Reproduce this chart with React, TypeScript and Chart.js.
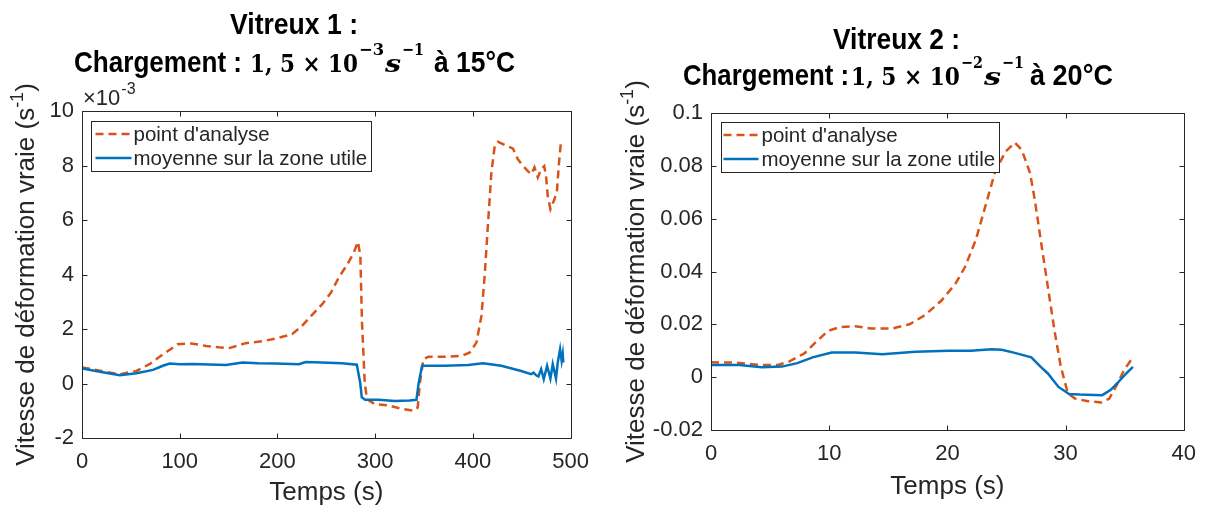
import React, { useEffect, useRef } from 'react';
import { Chart, registerables } from 'chart.js';

Chart.register(...registerables);

// ---------- data ----------
const SERIES_LABELS = ["point d'analyse", 'moyenne sur la zone utile'];

// Vitreux 1 (rate in 1e-3 s^-1)
const v1PointTime = [0, 11.5, 25, 38.7, 55.7, 69, 82.8, 98, 111.7, 127, 140, 150.7, 167.5, 185, 198, 215, 225, 235, 245.8, 255, 262.7, 272, 278, 282.4, 284.8, 286.5, 289.3, 291.6, 300, 313.5, 325.4, 339, 343.5, 345.8, 349.3, 354.4, 371.4, 388.3, 396.8, 403.6, 408.7, 412, 415.5, 418.9, 422.3, 425.7, 432.5, 441, 446, 451, 456, 459.6, 463, 466.4, 469.8, 473, 474.8, 476.6, 479.3, 483.4, 486, 487.8, 490];
const v1PointRate = [0.59, 0.52, 0.42, 0.34, 0.46, 0.71, 1.07, 1.44, 1.47, 1.38, 1.33, 1.3, 1.48, 1.55, 1.65, 1.81, 2.11, 2.5, 2.91, 3.35, 3.89, 4.4, 4.8, 5.2, 4.68, 2.24, 0.04, -0.58, -0.76, -0.8, -0.92, -1.0, -0.88, 0.04, 0.89, 0.98, 0.98, 1.01, 1.14, 1.5, 2.48, 3.95, 5.9, 7.74, 8.72, 8.87, 8.75, 8.62, 8.23, 7.99, 7.8, 7.68, 7.93, 7.56, 7.86, 7.98, 7.62, 6.88, 6.4, 6.76, 7.07, 7.98, 8.84];
const v1MeanTime = [0, 18.3, 38.7, 55.7, 72.6, 82.8, 89.6, 100, 113.4, 130, 147.3, 164.3, 180, 198, 222, 228.8, 245, 266, 281.2, 284.6, 286.3, 289.7, 303.2, 320.2, 335, 342.2, 344.6, 348, 371.4, 395, 410.4, 429, 449.4, 459.6, 462, 464.7, 467, 469.8, 472.5, 475.9, 479.3, 481.7, 485, 486.8, 489.2, 490.8, 491.9, 492.5];
const v1MeanRate = [0.55, 0.43, 0.3, 0.38, 0.5, 0.65, 0.73, 0.71, 0.72, 0.7, 0.68, 0.77, 0.74, 0.73, 0.71, 0.79, 0.77, 0.74, 0.69, 0.04, -0.51, -0.6, -0.6, -0.64, -0.62, -0.6, 0.04, 0.65, 0.65, 0.68, 0.74, 0.65, 0.46, 0.34, 0.4, 0.3, 0.26, 0.53, 0.16, 0.65, 0.18, 0.71, 0.18, 0.77, 1.26, 0.83, 1.08, 0.77];
const v1XTicks = [0, 100, 200, 300, 400, 500];
const v1YTicks = [-2, 0, 2, 4, 6, 8, 10];

// Vitreux 2 (rate in s^-1)
const v2PointTime = [0, 2.1, 4.3, 5.65, 6.6, 7.9, 8.9, 9.9, 10.9, 12.2, 13.5, 15.3, 16.8, 18.1, 19.5, 20.7, 21.5, 22.4, 23.2, 24.0, 24.9, 25.7, 26.3, 27.0, 27.4, 27.9, 28.5, 29.1, 29.6, 30.2, 30.8, 31.9, 33.0, 33.7, 34.4, 34.95, 35.7];
const v2PointRate = [0.0056, 0.0055, 0.0046, 0.0046, 0.0059, 0.009, 0.0134, 0.0175, 0.019, 0.0193, 0.0184, 0.0184, 0.02, 0.0235, 0.029, 0.0355, 0.0418, 0.0519, 0.0645, 0.0772, 0.0853, 0.0888, 0.086, 0.0772, 0.067, 0.0519, 0.0342, 0.0166, 0.0039, -0.0062, -0.0081, -0.0091, -0.0096, -0.0081, -0.0024, 0.0027, 0.0075];
const v2MeanTime = [0, 2.4, 4.3, 6, 7.3, 8.6, 10.2, 12.2, 14.5, 17.3, 20.1, 22, 23.7, 24.6, 25.7, 27.1, 27.9, 28.5, 29.4, 30.3, 31.2, 33.1, 33.8, 34.4, 34.95, 35.7];
const v2MeanRate = [0.0046, 0.0046, 0.0038, 0.004, 0.0053, 0.0075, 0.0093, 0.0093, 0.0087, 0.0096, 0.01, 0.01, 0.0106, 0.0104, 0.0092, 0.0075, 0.0039, 0.0014, -0.0037, -0.0064, -0.0066, -0.0068, -0.0049, -0.0022, 0.0006, 0.0039];
const v2XTicks = [0, 10, 20, 30, 40];
const v2YTicks = [-0.02, 0, 0.02, 0.04, 0.06, 0.08, 0.1];

// ---------- styles ----------
const ORANGE = '#D95319';
const BLUE = '#0072BD';
const INK = '#262626';
const SANS = '"Liberation Sans", Arial, Helvetica, sans-serif';
const SERIF = '"DejaVu Serif", "Liberation Serif", serif';

type Seg = { text: string; font: string; x0: number; x1: number; y: number };

type Panel = {
  pointT: number[]; pointV: number[]; meanT: number[]; meanV: number[];
  xTicks: number[]; yTicks: number[];
  padRight: number; padTop: number; yAxisWidth: number; xAxisHeight: number;
  xTitlePadBottom: number; yTitleX: number;
  legendDx: number; legendDy: number; legendSample: [number, number, number];
  titleSegs: Seg[]; multiplier: boolean;
};

const B30 = `bold 30px ${SANS}`;
const M24 = `bold 24px ${SERIF}`;
const M18 = `bold 17px ${SERIF}`;
const MI24 = `bold italic 24px ${SERIF}`;

const panel1: Panel = {
  pointT: v1PointTime, pointV: v1PointRate, meanT: v1MeanTime, meanV: v1MeanRate,
  xTicks: v1XTicks, yTicks: v1YTicks,
  padRight: 27, padTop: 111, yAxisWidth: 82, xAxisHeight: 73,
  xTitlePadBottom: 3, yTitleX: 27,
  legendDx: 9, legendDy: 10, legendSample: [4, 40, 42],
  multiplier: true,
  titleSegs: [
    { text: 'Vitreux 1 :', font: B30, x0: 230, x1: 358, y: 34 },
    { text: 'Chargement :', font: B30, x0: 74, x1: 242, y: 72 },
    { text: '1, 5 × 10', font: M24, x0: 250, x1: 358, y: 72 },
    { text: '−3', font: M18, x0: 359, x1: 384, y: 55 },
    { text: 's', font: MI24, x0: 385, x1: 401, y: 72 },
    { text: '−1', font: M18, x0: 402, x1: 424, y: 55 },
    { text: 'à 15°C', font: B30, x0: 434, x1: 515, y: 72 },
  ],
};

const panel2: Panel = {
  pointT: v2PointTime, pointV: v2PointRate, meanT: v2MeanTime, meanV: v2MeanRate,
  xTicks: v2XTicks, yTicks: v2YTicks,
  padRight: 21, padTop: 113, yAxisWidth: 111, xAxisHeight: 81,
  xTitlePadBottom: 9, yTitleX: 37,
  legendDx: 10, legendDy: 9, legendSample: [2, 37, 40],
  multiplier: false,
  titleSegs: [
    { text: 'Vitreux 2 :', font: B30, x0: 233, x1: 360, y: 48.6 },
    { text: 'Chargement :', font: B30, x0: 83, x1: 249, y: 85 },
    { text: '1, 5 × 10', font: M24, x0: 251, x1: 360, y: 85 },
    { text: '−2', font: M18, x0: 361, x1: 383, y: 68 },
    { text: 's', font: MI24, x0: 384, x1: 401, y: 85 },
    { text: '−1', font: M18, x0: 402, x1: 424, y: 68 },
    { text: 'à 20°C', font: B30, x0: 430, x1: 513, y: 85 },
  ],
};

const fmt = (v: number | string) => String(parseFloat(Number(v).toFixed(4)));

function drawSeg(ctx: CanvasRenderingContext2D, s: Seg, color: string) {
  ctx.font = s.font;
  const w = ctx.measureText(s.text).width || 1;
  ctx.save();
  ctx.translate(s.x0, s.y);
  ctx.scale((s.x1 - s.x0) / w, 1);
  ctx.fillStyle = color;
  ctx.textAlign = 'left';
  ctx.textBaseline = 'alphabetic';
  ctx.fillText(s.text, 0, 0);
  ctx.restore();
}

function makeDecor(p: Panel) {
  return {
    id: 'decor',
    afterDraw(chart: any) {
      const { ctx, chartArea } = chart;
      const { left, top, right, bottom } = chartArea;
      const xs = chart.scales.x;
      const ys = chart.scales.y;
      ctx.save();
      // box and inward ticks
      ctx.strokeStyle = INK;
      ctx.lineWidth = 1;
      ctx.setLineDash([]);
      const L = Math.round(left) + 0.5, T = Math.round(top) + 0.5;
      const R = Math.round(right) + 0.5, B = Math.round(bottom) + 0.5;
      ctx.beginPath();
      ctx.rect(L, T, R - L, B - T);
      const tl = 5;
      p.xTicks.forEach((v) => {
        const px = Math.round(xs.getPixelForValue(v)) + 0.5;
        ctx.moveTo(px, B); ctx.lineTo(px, B - tl);
        ctx.moveTo(px, T); ctx.lineTo(px, T + tl);
      });
      p.yTicks.forEach((v) => {
        const py = Math.round(ys.getPixelForValue(v)) + 0.5;
        ctx.moveTo(L, py); ctx.lineTo(L + tl, py);
        ctx.moveTo(R, py); ctx.lineTo(R - tl, py);
      });
      ctx.stroke();

      // legend
      const lf = `20.5px ${SANS}`;
      ctx.font = lf;
      const labels = chart.data.datasets.map((d: any) => d.label as string);
      const tw = Math.max(...labels.map((t: string) => ctx.measureText(t).width));
      const lx = Math.round(left + p.legendDx) + 0.5;
      const ly = Math.round(top + p.legendDy) + 0.5;
      const [s0, s1, tx] = p.legendSample;
      const lw = Math.round(tx + tw + 4);
      ctx.fillStyle = '#ffffff';
      ctx.fillRect(lx, ly, lw, 50);
      ctx.strokeStyle = INK;
      ctx.lineWidth = 1;
      ctx.strokeRect(lx, ly, lw, 50);
      chart.data.datasets.forEach((d: any, i: number) => {
        const yy = ly + 12.5 + i * 24;
        ctx.beginPath();
        ctx.strokeStyle = d.borderColor;
        ctx.lineWidth = d.borderWidth;
        ctx.setLineDash(d.borderDash || []);
        ctx.moveTo(lx + s0, yy);
        ctx.lineTo(lx + s1, yy);
        ctx.stroke();
        ctx.setLineDash([]);
        ctx.fillStyle = INK;
        ctx.font = lf;
        ctx.textAlign = 'left';
        ctx.textBaseline = 'middle';
        ctx.fillText(d.label, lx + tx, yy + 1);
      });

      // y-axis title (rotated, with superscript)
      ctx.save();
      ctx.translate(p.yTitleX, (top + bottom) / 2);
      ctx.rotate(-Math.PI / 2);
      const mainF = `26px ${SANS}`;
      const supF = `18px ${SANS}`;
      const parts: [string, string, number][] = [
        ['Vitesse de déformation vraie (s', mainF, 0],
        ['-1', supF, -9],
        [')', mainF, 0],
      ];
      let total = 0;
      parts.forEach(([t, f]) => { ctx.font = f; total += ctx.measureText(t).width; });
      let cx = -total / 2;
      ctx.fillStyle = INK;
      ctx.textAlign = 'left';
      ctx.textBaseline = 'middle';
      parts.forEach(([t, f, dy]) => {
        ctx.font = f;
        ctx.fillText(t, cx, dy);
        cx += ctx.measureText(t).width;
      });
      ctx.restore();

      // exponent multiplier
      if (p.multiplier) {
        ctx.fillStyle = INK;
        ctx.textAlign = 'left';
        ctx.textBaseline = 'alphabetic';
        ctx.font = `22px ${SANS}`;
        ctx.fillText('×10', left + 1, top - 6);
        const w = ctx.measureText('×10').width;
        ctx.font = `16px ${SANS}`;
        ctx.fillText('-3', left + 1 + w + 1, top - 17);
      }

      // title
      p.titleSegs.forEach((s) => drawSeg(ctx, s, '#000000'));
      ctx.restore();
    },
  };
}

function PanelChart({ p, left, width }: { p: Panel; left: number; width: number }) {
  const ref = useRef<HTMLCanvasElement | null>(null);
  useEffect(() => {
    if (!ref.current) return;
    const tickFont = { family: SANS, size: 22 };
    const chart = new Chart(ref.current, {
      type: 'line',
      data: {
        datasets: [
          {
            label: SERIES_LABELS[0],
            data: p.pointT.map((t, i) => ({ x: t, y: p.pointV[i] })),
            borderColor: ORANGE,
            backgroundColor: ORANGE,
            borderWidth: 2.5,
            borderDash: [8, 5],
            pointRadius: 0,
            tension: 0,
            fill: false,
            order: 1,
          },
          {
            label: SERIES_LABELS[1],
            data: p.meanT.map((t, i) => ({ x: t, y: p.meanV[i] })),
            borderColor: BLUE,
            backgroundColor: BLUE,
            borderWidth: 2.5,
            pointRadius: 0,
            tension: 0,
            fill: false,
            order: 0,
          },
        ],
      },
      options: {
        responsive: false,
        maintainAspectRatio: false,
        animation: false,
        devicePixelRatio: 1,
        layout: { padding: { left: 0, right: p.padRight, top: p.padTop, bottom: 0 } },
        plugins: {
          legend: { display: false },
          title: { display: false },
          tooltip: { enabled: false },
        },
        scales: {
          x: {
            type: 'linear',
            min: p.xTicks[0],
            max: p.xTicks[p.xTicks.length - 1],
            afterBuildTicks: (s: any) => { s.ticks = p.xTicks.map((v) => ({ value: v })); },
            afterFit: (s: any) => { s.height = p.xAxisHeight; },
            ticks: { font: tickFont, color: INK, padding: 11, maxRotation: 0, autoSkip: false, callback: (v: any) => fmt(v) },
            grid: { display: false, drawTicks: false },
            border: { display: false },
            title: {
              display: true,
              text: 'Temps (s)',
              color: INK,
              font: { family: SANS, size: 26 },
              padding: { top: 0, bottom: p.xTitlePadBottom },
            },
          },
          y: {
            type: 'linear',
            min: p.yTicks[0],
            max: p.yTicks[p.yTicks.length - 1],
            afterBuildTicks: (s: any) => { s.ticks = p.yTicks.map((v) => ({ value: v })); },
            afterFit: (s: any) => { s.width = p.yAxisWidth; },
            ticks: { font: tickFont, color: INK, padding: 8, autoSkip: false, callback: (v: any) => fmt(v) },
            grid: { display: false, drawTicks: false },
            border: { display: false },
          },
        },
      } as any,
      plugins: [makeDecor(p)],
    });
    return () => chart.destroy();
  }, [p]);
  return (
    <canvas
      ref={ref}
      width={width}
      height={511}
      style={{ position: 'absolute', left, top: 0, width, height: 511, display: 'block' }}
    />
  );
}

export default function App() {
  return (
    <div style={{ position: 'absolute', left: 0, top: 0, width: 1207, height: 511, background: '#ffffff', overflow: 'hidden' }}>
      <PanelChart p={panel1} left={0} width={600} />
      <PanelChart p={panel2} left={600} width={607} />
    </div>
  );
}
